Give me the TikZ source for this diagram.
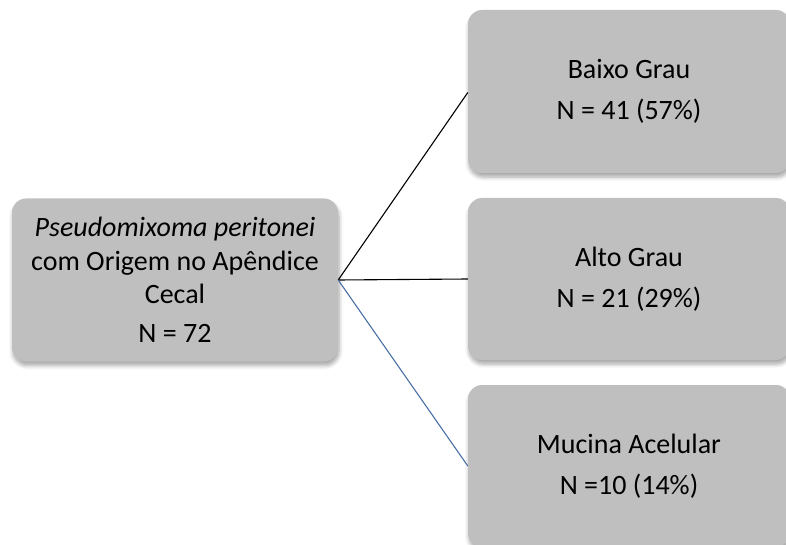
\documentclass[tikz,border=0pt]{standalone}
\usepackage{fontspec}
\setmainfont{Carlito}
\usetikzlibrary{shadows.blur}
\definecolor{boxgray}{HTML}{BFBFBF}
\definecolor{linkblue}{HTML}{4A6FA5}
\tikzset{
  graybox/.style={fill=boxgray, rounded corners=14pt, draw=none,
    blur shadow={shadow xshift=1pt, shadow yshift=-4pt, shadow blur steps=6, shadow blur radius=4pt, shadow opacity=35},
    align=center, font=\fontsize{28pt}{33.5pt}\selectfont, inner sep=0pt},
  link/.style={line width=1.1pt}
}
\begin{document}
\begin{tikzpicture}[x=1pt,y=-1pt]
\useasboundingbox (0,0) rectangle (786,545);
\node[graybox, minimum width=326pt, minimum height=163pt] (root) at (175,280)
  {\textit{Pseudomixoma peritonei}\\com Origem no Apêndice\\Cecal\\[5pt]N = 72};
\node[graybox, minimum width=322pt, minimum height=163pt] (b1) at (629,91.5)
  {Baixo Grau\\[8pt]N = 41 (57\%)};
\node[graybox, minimum width=322pt, minimum height=162pt] (b2) at (629,279)
  {Alto Grau\\[8pt]N = 21 (29\%)};
\node[graybox, minimum width=322pt, minimum height=162pt] (b3) at (629,466)
  {Mucina Acelular\\[8pt]N =10 (14\%)};
\draw[link, black] (root.east) -- ([yshift=-1pt]b1.west);
\draw[link, black] (root.east) -- (b2.west);
\draw[link, linkblue] (root.east) -- (b3.west);
\end{tikzpicture}
\end{document}
